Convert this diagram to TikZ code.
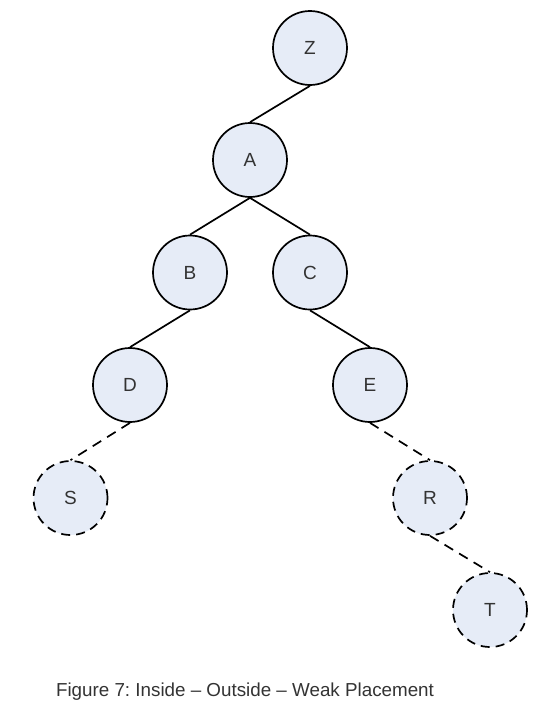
\documentclass[tikz,border=0pt]{standalone}
\usepackage{fontspec}
\setmainfont{Liberation Sans}
\frenchspacing
\definecolor{nodefill}{HTML}{E6ECF7}
\definecolor{txt}{HTML}{333333}
\begin{document}
\begin{tikzpicture}[x=1pt,y=-1pt,
  tnode/.style={circle,draw=black,line width=1.7pt,fill=nodefill,minimum size=74pt,inner sep=0pt,font=\fontsize{19}{21}\selectfont,text=txt},
  weak/.style={tnode,dash pattern=on 9pt off 6pt},
  edge/.style={line width=1.7pt},
  weakedge/.style={edge,dash pattern=on 10pt off 7pt}]
\useasboundingbox (0,0) rectangle (556,715);
\node[tnode] (Z) at (310,48) {Z};
\node[tnode] (A) at (250,160) {A};
\node[tnode] (B) at (190,272.5) {B};
\node[tnode] (C) at (310,272.5) {C};
\node[tnode] (D) at (130,385) {D};
\node[tnode] (E) at (370,385) {E};
\node[weak] (S) at (70.5,498) {S};
\node[weak] (R) at (430,498) {R};
\node[weak] (T) at (490,610) {T};
\draw[edge] (Z.south) -- (A.north);
\draw[edge] (A.south) -- (B.north);
\draw[edge] (A.south) -- (C.north);
\draw[edge] (B.south) -- (D.north);
\draw[edge] (C.south) -- (E.north);
\draw[weakedge] (D.south) -- (S.north);
\draw[weakedge] (E.south) -- (R.north);
\draw[weakedge] (R.south) -- (T.north);
\node[font=\fontsize{18.8}{21}\selectfont,text=txt] (cap) at (245,692) {Figure 7: Inside – Outside – Weak Placement};
\end{tikzpicture}
\end{document}
